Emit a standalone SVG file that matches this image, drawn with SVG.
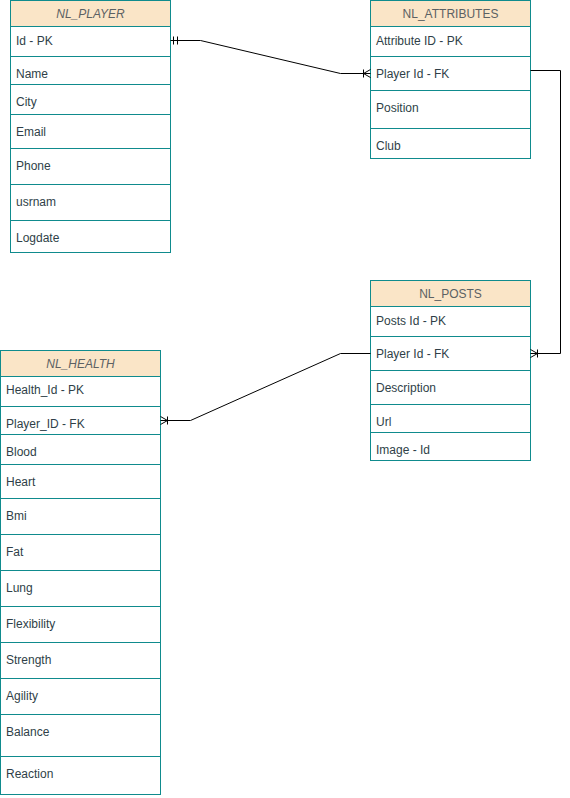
<svg xmlns="http://www.w3.org/2000/svg" width="570" height="798" viewBox="0 0 570 798">
<style>
.bg{fill:#ffffff}
.hd{fill:#FAE5C7;stroke:#0F8B8D;stroke-width:1}
.rw{fill:#ffffff;stroke:#0F8B8D;stroke-width:1}
.ht{font-family:"Liberation Sans",Arial,sans-serif;font-size:12px;fill:#5c6163;text-anchor:middle}
.it{font-style:italic}
.t{font-family:"Liberation Sans",Arial,sans-serif;font-size:12px;fill:#2f3f48}
.ln{fill:none;stroke:#000000;stroke-width:1}
</style>
<rect class="bg" x="0" y="0" width="570" height="798"/>

<g id="nl_player">
<rect class="hd" x="10.5" y="0.5" width="160" height="26"/>
<text class="ht it" x="90.5" y="18">NL_PLAYER</text>
<rect class="rw" x="10.5" y="26.5" width="160" height="30"/>
<rect class="rw" x="10.5" y="56.5" width="160" height="28"/>
<rect class="rw" x="10.5" y="84.5" width="160" height="30"/>
<rect class="rw" x="10.5" y="114.5" width="160" height="34"/>
<rect class="rw" x="10.5" y="148.5" width="160" height="36"/>
<rect class="rw" x="10.5" y="184.5" width="160" height="36"/>
<rect class="rw" x="10.5" y="220.5" width="160" height="32"/>
<text class="t" x="16" y="45">Id - PK</text>
<text class="t" x="16" y="78">Name</text>
<text class="t" x="16" y="106">City</text>
<text class="t" x="16" y="136">Email</text>
<text class="t" x="16" y="170">Phone</text>
<text class="t" x="16" y="206">usrnam</text>
<text class="t" x="16" y="242">Logdate</text>
</g>

<g id="nl_attributes">
<rect class="hd" x="370.5" y="0.5" width="160" height="26"/>
<text class="ht" x="450.5" y="18">NL_ATTRIBUTES</text>
<rect class="rw" x="370.5" y="26.5" width="160" height="30"/>
<rect class="rw" x="370.5" y="56.5" width="160" height="34"/>
<rect class="rw" x="370.5" y="90.5" width="160" height="38"/>
<rect class="rw" x="370.5" y="128.5" width="160" height="30"/>
<text class="t" x="376" y="45">Attribute ID - PK</text>
<text class="t" x="376" y="78">Player Id - FK</text>
<text class="t" x="376" y="112">Position</text>
<text class="t" x="376" y="150">Club</text>
</g>

<g id="nl_posts">
<rect class="hd" x="370.5" y="280.5" width="160" height="26"/>
<text class="ht" x="450.5" y="298">NL_POSTS</text>
<rect class="rw" x="370.5" y="306.5" width="160" height="30"/>
<rect class="rw" x="370.5" y="336.5" width="160" height="34"/>
<rect class="rw" x="370.5" y="370.5" width="160" height="34"/>
<rect class="rw" x="370.5" y="404.5" width="160" height="28"/>
<rect class="rw" x="370.5" y="432.5" width="160" height="28"/>
<text class="t" x="376" y="325">Posts Id - PK</text>
<text class="t" x="376" y="358">Player Id - FK</text>
<text class="t" x="376" y="392">Description</text>
<text class="t" x="376" y="426">Url</text>
<text class="t" x="376" y="454">Image - Id</text>
</g>

<g id="nl_health">
<rect class="hd" x="0.5" y="350.5" width="160" height="26"/>
<text class="ht it" x="80.5" y="368">NL_HEALTH</text>
<rect class="rw" x="0.5" y="376.5" width="160" height="30"/>
<rect class="rw" x="0.5" y="406.5" width="160" height="28"/>
<rect class="rw" x="0.5" y="434.5" width="160" height="30"/>
<rect class="rw" x="0.5" y="464.5" width="160" height="34"/>
<rect class="rw" x="0.5" y="498.5" width="160" height="36"/>
<rect class="rw" x="0.5" y="534.5" width="160" height="36"/>
<rect class="rw" x="0.5" y="570.5" width="160" height="36"/>
<rect class="rw" x="0.5" y="606.5" width="160" height="36"/>
<rect class="rw" x="0.5" y="642.5" width="160" height="36"/>
<rect class="rw" x="0.5" y="678.5" width="160" height="36"/>
<rect class="rw" x="0.5" y="714.5" width="160" height="42"/>
<rect class="rw" x="0.5" y="756.5" width="160" height="38"/>
<text class="t" x="6" y="394">Health_Id - PK</text>
<text class="t" x="6" y="428">Player_ID - FK</text>
<text class="t" x="6" y="456">Blood</text>
<text class="t" x="6" y="486">Heart</text>
<text class="t" x="6" y="520">Bmi</text>
<text class="t" x="6" y="556">Fat</text>
<text class="t" x="6" y="592">Lung</text>
<text class="t" x="6" y="628">Flexibility</text>
<text class="t" x="6" y="664">Strength</text>
<text class="t" x="6" y="700">Agility</text>
<text class="t" x="6" y="736">Balance</text>
<text class="t" x="6" y="778">Reaction</text>
</g>

<g id="connectors">
<path class="ln" d="M170.5 40.5 H200.5 L340.5 73.5 H370.5"/>
<path class="ln" d="M173.5 36.5 V44.5 M177.5 36.5 V44.5"/>
<path class="ln" d="M363.5 69.5 V77.5 M363.5 73.5 L370.5 69.5 M363.5 73.5 L370.5 77.5"/>

<path class="ln" d="M530.5 70.5 H560.5 V353.5 H530.5"/>
<path class="ln" d="M537.5 349.5 V357.5 M537.5 353.5 L530.5 349.5 M537.5 353.5 L530.5 357.5"/>

<path class="ln" d="M160.5 420.5 H190.5 L340.5 353.5 H370.5"/>
<path class="ln" d="M167.5 416.5 V424.5 M167.5 420.5 L160.5 416.5 M167.5 420.5 L160.5 424.5"/>
</g>
</svg>
